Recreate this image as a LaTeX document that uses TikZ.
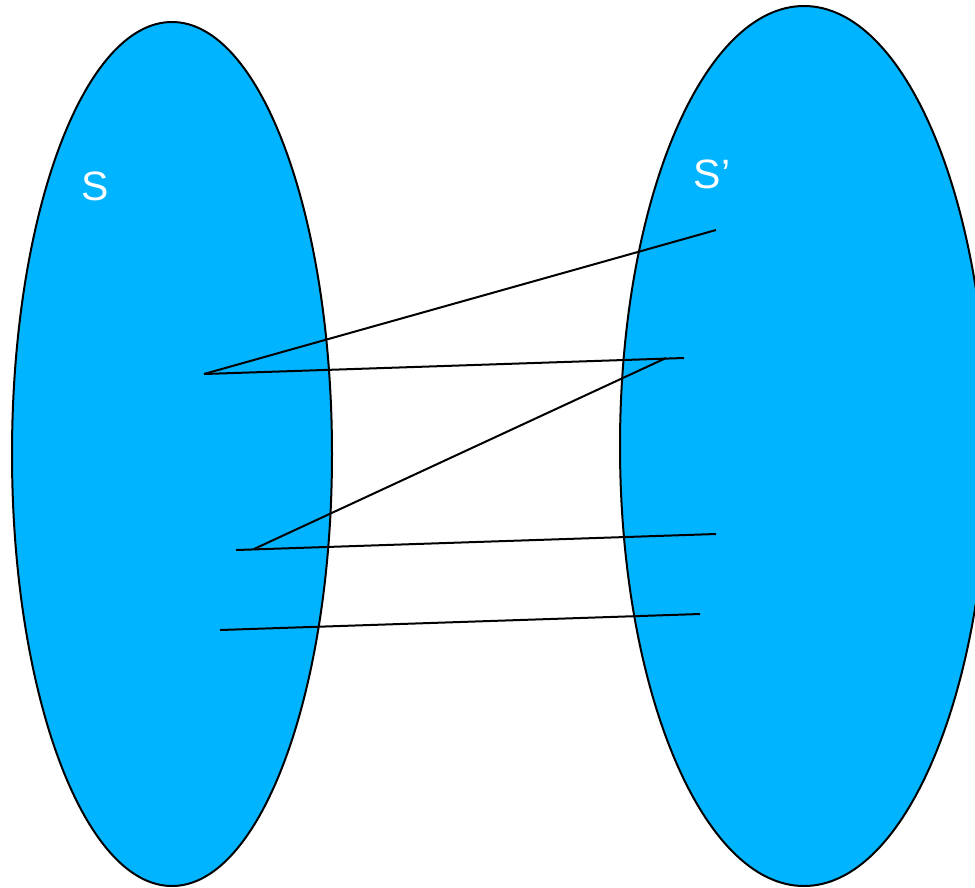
\documentclass[tikz,border=0pt]{standalone}
\usepackage{fontspec}
\setmainfont{Liberation Sans}
\definecolor{setblue}{RGB}{0,180,255}
\begin{document}
\begin{tikzpicture}[x=1pt,y=-1pt,
  setshape/.style={fill=setblue,draw=black,line width=2pt},
  mapline/.style={draw=black,line width=2pt},
  lbl/.style={text=white,font=\fontsize{41}{49}\selectfont,inner sep=0pt}]
\useasboundingbox (0,0) rectangle (975,887);
\path[setshape] (172,454) ellipse [x radius=160, y radius=432];
\path[setshape] (804,446) ellipse [x radius=184, y radius=440];
\node[lbl] (s) at (95,186) {S};
\node[lbl] (sp) at (712,174) {S’};
\coordinate (a1) at (204,374);
\coordinate (b1) at (716,230);
\coordinate (b2) at (684,358);
\coordinate (b2k) at (666,358);
\coordinate (a2k) at (254,549);
\coordinate (a2) at (236,550);
\coordinate (b3) at (716,534);
\coordinate (a3) at (220,630);
\coordinate (b4) at (700,614);
\draw[mapline] (a1) -- (b1);
\draw[mapline] (a1) -- (b2);
\draw[mapline] (b2k) -- (a2k);
\draw[mapline] (a2) -- (b3);
\draw[mapline] (a3) -- (b4);
\end{tikzpicture}
\end{document}
